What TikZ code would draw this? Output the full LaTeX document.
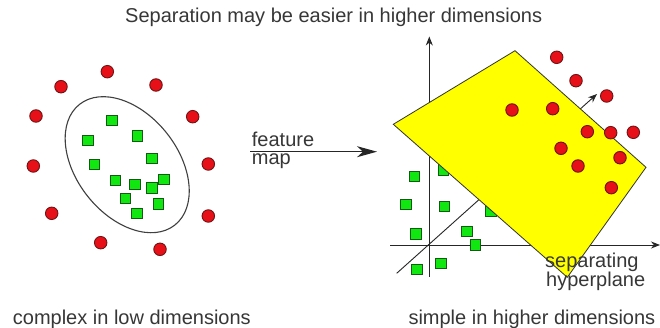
\documentclass[tikz,border=0pt]{standalone}
\usepackage{fontspec}
\setmainfont{Liberation Sans}
\usetikzlibrary{arrows.meta}
\definecolor{txt}{RGB}{55,55,55}
\definecolor{redfill}{RGB}{232,16,24}
\definecolor{redline}{RGB}{110,20,20}
\definecolor{grnfill}{RGB}{16,230,16}
\definecolor{grnline}{RGB}{20,90,20}
\definecolor{yel}{RGB}{255,255,0}
\tikzset{
  redpt/.style={circle,fill=redfill,draw=redline,line width=0.9pt,minimum size=12.5pt,inner sep=0pt},
  grnpt/.style={rectangle,fill=grnfill,draw=grnline,line width=0.9pt,minimum size=10.5pt,inner sep=0pt},
  lbl/.style={inner sep=0pt,anchor=base west,text=txt,font=\fontsize{20}{18.3}\selectfont},
  axis/.style={line width=0.9pt,draw=black!85,-{Stealth[length=9pt,width=7pt]}},
  plane/.style={fill=yel,draw=black!80,line width=0.8pt}
}
\begin{document}
\begin{tikzpicture}[x=1pt,y=-1pt]
\useasboundingbox[fill=white] (0,0) rectangle (660,328);
% title
\node[lbl] (title) at (125,22.7) {Separation may be easier in higher dimensions};
% left panel
\coordinate (ec) at (127.2,164.7);
\draw[line width=1.1pt,draw=black!75,rotate around={-51.7:(ec)}] (ec) ellipse [x radius=76.9pt, y radius=50.6pt];
\foreach \x/\y [count=\i] in {107.3/71.7, 61/86.7, 156/85, 36/116, 192.7/116.7, 33.3/166, 208.3/164, 51.7/213.3, 208.3/216, 100.7/242.7, 160/249.3}
  \node[redpt] (lr\i) at (\x,\y) {};
\foreach \x/\y [count=\i] in {112/120.7, 88/140.7, 137.3/136, 94.3/164.7, 152/158.7, 115.3/180.3, 135/184.7, 152/188, 164/179.7, 125.3/198.7, 158.3/204, 136.7/213.3}
  \node[grnpt] (lg\i) at (\x,\y) {};
% feature map
\node[lbl] (feat) at (251.7,146.7) {feature};
\node[lbl] (map) at (251.7,165) {map};
\coordinate (fa) at (250,151.7);
\coordinate (fb) at (377,151.7);
\draw[line width=1.4pt,draw=black!85,-{Stealth[length=20pt,width=11pt,inset=6pt]}] (fa) -- (fb);
% right panel axes
\coordinate (vb) at (429.3,276.7);
\coordinate (vt) at (429.3,36.5);
\coordinate (hl) at (390,245);
\coordinate (hr) at (660,245);
\coordinate (db) at (396.7,273.3);
\coordinate (dt) at (597,94);
\draw[axis] (vb) -- (vt);
\draw[axis] (hl) -- (hr);
\draw[axis] (db) -- (dt);
\foreach \x/\y [count=\i] in {414.3/176.7, 443.3/170, 406/204.3, 444.3/206.7, 490.7/211, 416/234, 467/231.7, 475.3/245, 441/263.3, 416.7/269.3}
  \node[grnpt] (rg\i) at (\x,\y) {};
% separating plane
\coordinate (p1) at (515,50.7);
\coordinate (p2) at (393.3,124.3);
\coordinate (p3) at (567.3,277.3);
\coordinate (p4) at (646,167.3);
\draw[plane] (p1) -- (p2) -- (p3) -- (p4) -- cycle;
\foreach \x/\y [count=\i] in {556.7/57.3, 576/80.7, 606.7/96, 512/110, 552.7/108.7, 587.3/131.7, 610.7/132.7, 633.3/132.3, 561/148.3, 620/157.7, 578/166, 611.3/187.7}
  \node[redpt] (rr\i) at (\x,\y) {};
\node[lbl] (sep) at (545,268) {separating};
\node[lbl] (hyp) at (546,286.5) {hyperplane};
% captions
\node[lbl] (cap1) at (12.7,324) {complex in low dimensions};
\node[lbl] (cap2) at (408.3,324) {simple in higher dimensions};
\end{tikzpicture}
\end{document}
